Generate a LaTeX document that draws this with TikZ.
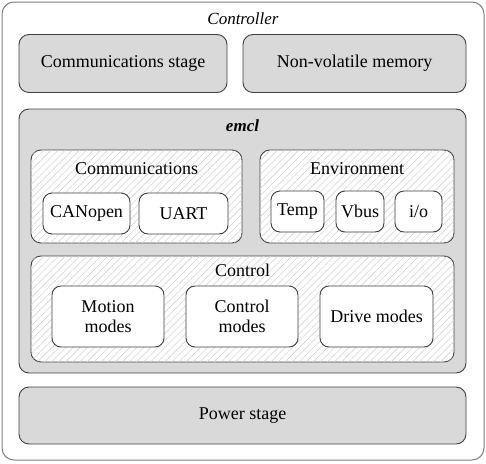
\documentclass[tikz,border=0pt]{standalone}
\usepackage{fontspec}
\setmainfont{Liberation Serif}
\usetikzlibrary{patterns.meta}
\definecolor{boxgray}{HTML}{D9D9D9}
\definecolor{edgedark}{HTML}{404040}
\definecolor{edgelight}{HTML}{808080}
\definecolor{hatchgray}{HTML}{D6D6D6}
\tikzset{
  base/.style={draw=edgedark, line width=0.9pt, rounded corners=10pt, inner sep=0pt, align=center, font=\fontsize{18}{20}\selectfont},
  graybox/.style={base, fill=boxgray},
  whitebox/.style={base, fill=white, rounded corners=9pt},
  hatchbox/.style={base, fill=white, postaction={pattern={Lines[angle=45,distance=5pt,line width=0.6pt]}, pattern color=hatchgray}},
  outerbox/.style={draw=edgelight, line width=1pt, fill=white, rounded corners=12pt, inner sep=0pt},
  title/.style={font=\fontsize{18}{20}\selectfont, inner sep=0pt},
}
\begin{document}
\begin{tikzpicture}[x=1pt,y=-1pt]
\useasboundingbox (0,0) rectangle (486,463);
\node[outerbox, minimum width=482pt, minimum height=458pt] (ctrl) at (243,231) {};
\node[title, font=\fontsize{17}{20}\selectfont\itshape] (ctrlt) at (243,18.5) {Controller};
\node[graybox, minimum width=208pt, minimum height=58pt] (cs) at (123,63.5) {Communications stage};
\node[graybox, minimum width=223pt, minimum height=58pt] (nvm) at (354.5,63.5) {Non-volatile memory};
\node[graybox, minimum width=447pt, minimum height=264pt] (emcl) at (242.5,241) {};
\node[title, font=\fontsize{17}{20}\selectfont\bfseries\itshape] (emclt) at (242.5,125.5) {emcl};
\node[hatchbox, minimum width=211pt, minimum height=93pt] (comm) at (136.5,196.5) {};
\node[title] (commt) at (136.5,168.5) {Communications};
\node[whitebox, minimum width=87pt, minimum height=41pt] (can) at (86.5,213.5) {CANopen};
\node[whitebox, minimum width=89pt, minimum height=41pt] (uart) at (183.5,213.5) {UART};
\node[hatchbox, minimum width=194pt, minimum height=93pt] (env) at (357,196.5) {};
\node[title] (envt) at (357,168.5) {Environment};
\node[whitebox, minimum width=53pt, minimum height=41pt] (temp) at (297.5,211.5) {Temp};
\node[whitebox, minimum width=48pt, minimum height=41pt] (vbus) at (360,211.5) {Vbus};
\node[whitebox, minimum width=47pt, minimum height=41pt] (io) at (418.5,211.5) {i/o};
\node[hatchbox, minimum width=423pt, minimum height=106pt] (control) at (242.5,309) {};
\node[title] (controlt) at (242.5,270.5) {Control};
\node[whitebox, minimum width=112pt, minimum height=61pt] (motion) at (108,316.5) {Motion\\modes};
\node[whitebox, minimum width=112pt, minimum height=61pt] (cmodes) at (242,316.5) {Control\\modes};
\node[whitebox, minimum width=113pt, minimum height=61pt] (drive) at (376.5,316.5) {Drive modes};
\node[graybox, minimum width=447pt, minimum height=57pt] (power) at (242.5,415.5) {Power stage};
\end{tikzpicture}
\end{document}
